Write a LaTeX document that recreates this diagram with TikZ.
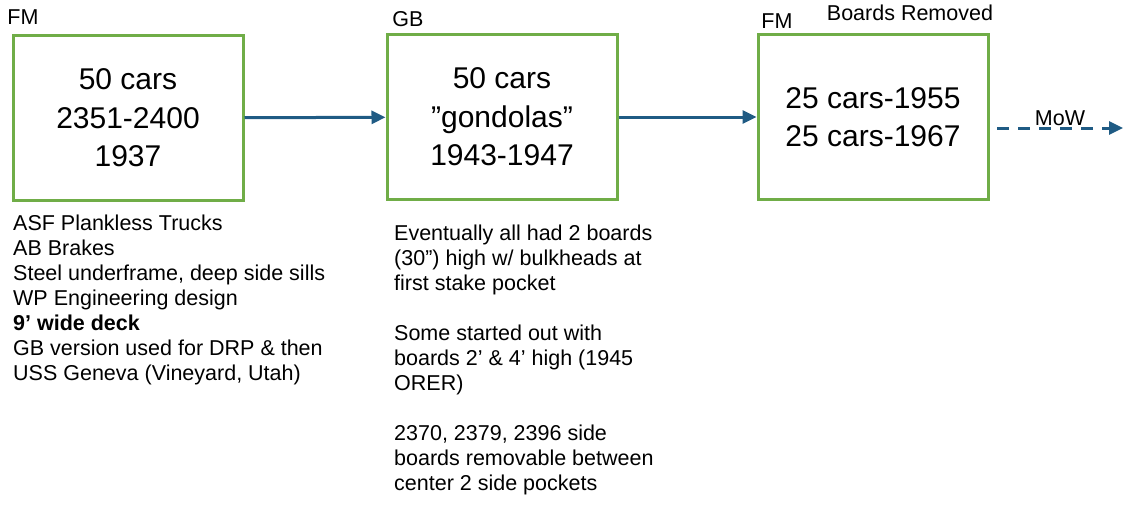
\documentclass[tikz,border=0pt]{standalone}
\usepackage{fontspec}
\setmainfont{Liberation Sans}
\usetikzlibrary{arrows.meta,positioning}
\definecolor{boxgreen}{RGB}{112,173,71}
\definecolor{flowblue}{RGB}{31,91,132}

\begin{document}
\begin{tikzpicture}[x=1pt,y=-1pt,>={Triangle[length=14pt,width=13pt]},
  carbox/.style={draw=boxgreen,line width=3pt,minimum width=230pt,minimum height=165pt,align=center,font=\fontsize{30}{38.5}\selectfont},
  lbl/.style={inner sep=0pt,font=\fontsize{21.5}{25}\selectfont},
  notes/.style={lbl,align=left,anchor=north west},
  flow/.style={->,draw=flowblue,line width=3pt}]

                \useasboundingbox (0,0) rectangle (1127,506);

                \node[carbox] (b1) at (128,118) {50 cars\\2351-2400\\1937};
                \node[carbox] (b2) at (502,117) {50 cars\\”gondolas”\\1943-1947};
                \node[carbox] (b3) at (873,117) {25 cars-1955\\25 cars-1967};

                \node[lbl] (fm1) at (23,17) {FM};
                \node[lbl] (gb) at (408,19) {GB};
                \node[lbl] (fm3) at (777,21) {FM};
                \node[lbl] (removed) at (910,13) {Boards Removed};

                \node[notes] (n1) at (13,215) {ASF Plankless Trucks\\AB Brakes\\Steel underframe, deep side sills\\WP Engineering design\\\textbf{9' wide deck}\\GB version used for DRP \& then\\USS Geneva (Vineyard, Utah)};
                \node[notes] (n2) at (394,225) {Eventually all had 2 boards\\(30”) high w/ bulkheads at\\first stake pocket\\[25pt]Some started out with\\boards 2' \& 4' high (1945\\ORER)\\[25pt]2370, 2379, 2396 side\\boards removable between\\center 2 side pockets};

                \coordinate (mowstart) at (997,128);
                \coordinate (mowend) at (1123,128);

                \draw[flow] (b1) -- (b2);
                \draw[flow] (b2) -- (b3);
                \draw[flow, dash pattern=on 12pt off 9pt] (mowstart) -- node[lbl, above=1pt] (mow) {MoW} (mowend);

                ;
            \end{tikzpicture}
\end{document}
